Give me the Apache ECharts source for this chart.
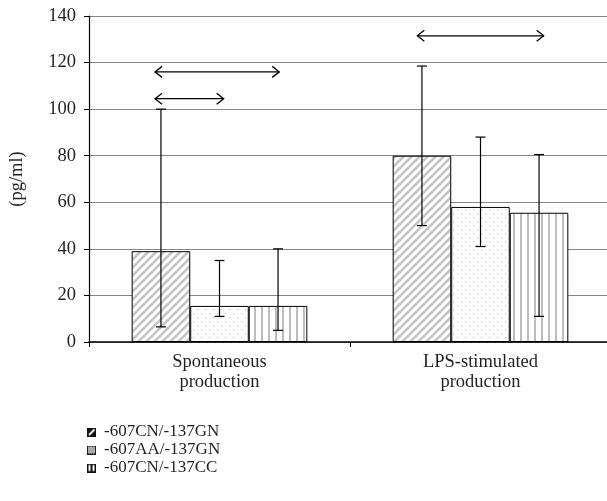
<!DOCTYPE html>
<html>
<head>
<meta charset="utf-8">
<script src="https://cdn.jsdelivr.net/npm/echarts@6/dist/echarts.min.js"></script>
<style>html,body{margin:0;padding:0;background:#fff;overflow:hidden;}#c{width:615px;height:501px;}</style>
</head>
<body>
<div id="c"></div>
<script>
// ---- data ----
const categories = ['Spontaneous\nproduction', 'LPS-stimulated\nproduction'];
const seriesNames = ['-607CN/-137GN', '-607AA/-137GN', '-607CN/-137CC'];
const meanCN_GN = [39, 80];
const meanAA_GN = [15.5, 58];
const meanCN_CC = [15.5, 55.5];
const errCN_GN = [[6.5, 100], [50, 118.5]];   // [low, high]
const errAA_GN = [[11, 35], [41, 88]];
const errCN_CC = [[5, 40], [11, 80.5]];
// significance arrows: [from, to, level] in category-index units
const arrows = [[-0.247, 0.229, 116], [-0.247, 0.016, 104.5], [0.758, 1.242, 131.5]];
const yTicks = {min: 0, max: 140, interval: 20};

// ---- patterns ----
function makeCanvas(w, h, draw) {
  const c = document.createElement('canvas');
  c.width = w; c.height = h;
  const ctx = c.getContext('2d');
  draw(ctx);
  return c;
}
const diag = makeCanvas(8, 8, ctx => {
  ctx.fillStyle = '#fff'; ctx.fillRect(0, 0, 8, 8);
  ctx.strokeStyle = '#c4c4c4'; ctx.lineWidth = 2.6;
  [[-8, 16, 16, -8], [-16, 16, 16, -16], [0, 16, 16, 0], [-8, 8, 8, -8], [0, 24, 24, 0]].forEach(l => {
    ctx.beginPath(); ctx.moveTo(l[0], l[1]); ctx.lineTo(l[2], l[3]); ctx.stroke();
  });
});
const dots = makeCanvas(8, 8, ctx => {
  ctx.fillStyle = '#fff'; ctx.fillRect(0, 0, 8, 8);
  ctx.fillStyle = '#c8c8c8';
  ctx.fillRect(1, 1, 1.3, 1.3);
  ctx.fillRect(5, 5, 1.3, 1.3);
});
const vert = makeCanvas(7, 4, ctx => {
  ctx.fillStyle = '#fff'; ctx.fillRect(0, 0, 7, 4);
  ctx.fillStyle = '#bdbdbd'; ctx.fillRect(2, 0, 2, 4);
});
const patterns = [diag, dots, vert];

function icon(draw) {
  return 'image://' + makeCanvas(9, 9, draw).toDataURL();
}
const icons = [
  icon(ctx => {
    ctx.fillStyle = '#111'; ctx.fillRect(0, 0, 9, 9);
    ctx.strokeStyle = '#fff'; ctx.lineWidth = 1.8;
    ctx.beginPath(); ctx.moveTo(2, 7.5); ctx.lineTo(7.5, 2); ctx.stroke();
  }),
  icon(ctx => {
    ctx.fillStyle = '#222'; ctx.fillRect(0, 0, 9, 9);
    for (let i = 1; i < 8; i++) for (let j = 1; j < 8; j++) {
      ctx.fillStyle = ((i + j) % 2) ? '#d8d8d8' : '#777';
      ctx.fillRect(i, j, 1, 1);
    }
  }),
  icon(ctx => {
    ctx.fillStyle = '#111'; ctx.fillRect(0, 0, 9, 9);
    ctx.fillStyle = '#fff'; ctx.fillRect(1.5, 1.5, 2, 6); ctx.fillRect(5.5, 1.5, 2, 6);
  })
];

const means = [meanCN_GN, meanAA_GN, meanCN_CC];
const errs = [errCN_GN, errAA_GN, errCN_CC];
const GAP = 0.327;
const FONT = 'Liberation Serif';
const TXT = '#231f20';

const barSeries = seriesNames.map((n, s) => ({
  name: n, type: 'bar', data: means[s], barGap: 0, barCategoryGap: (GAP * 100) + '%',
  itemStyle: {color: {image: patterns[s], repeat: 'repeat'}, borderColor: '#000', borderWidth: 1},
  z: 2
}));

const errData = [];
errs.forEach((e, s) => e.forEach((v, i) => errData.push([i, s, v[0], v[1]])));

const errSeries = {
  type: 'custom', name: 'err', z: 5, silent: true,
  encode: {x: 0, y: [2, 3]},
  data: errData,
  renderItem: (params, api) => {
    const i = api.value(0), s = api.value(1);
    const catW = api.size([1, 0])[0];
    const barW = catW * (1 - GAP) / 3;
    const lo = api.coord([i, api.value(2)]);
    const hi = api.coord([i, api.value(3)]);
    const x = lo[0] + (s - 1) * barW;
    const cap = 5;
    const st = {stroke: '#000', lineWidth: 1.2};
    return {type: 'group', children: [
      {type: 'line', shape: {x1: x, y1: lo[1], x2: x, y2: hi[1]}, style: st},
      {type: 'line', shape: {x1: x - cap, y1: lo[1], x2: x + cap, y2: lo[1]}, style: st},
      {type: 'line', shape: {x1: x - cap, y1: hi[1], x2: x + cap, y2: hi[1]}, style: st}
    ]};
  }
};

const arrowSeries = {
  type: 'custom', name: 'arrows', xAxisIndex: 1, z: 5, silent: true,
  encode: {x: [0, 1], y: 2},
  data: arrows,
  renderItem: (params, api) => {
    const a = api.coord([api.value(0), api.value(2)]);
    const b = api.coord([api.value(1), api.value(2)]);
    const hl = 7, hh = 5.5;
    const st = {stroke: '#000', lineWidth: 1.3, fill: null};
    return {type: 'group', children: [
      {type: 'line', shape: {x1: a[0], y1: a[1], x2: b[0], y2: b[1]}, style: st},
      {type: 'polyline', shape: {points: [[a[0] + hl, a[1] - hh], [a[0], a[1]], [a[0] + hl, a[1] + hh]]}, style: st},
      {type: 'polyline', shape: {points: [[b[0] - hl, b[1] - hh], [b[0], b[1]], [b[0] - hl, b[1] + hh]]}, style: st}
    ]};
  }
};

const chart = echarts.init(document.getElementById('c'), null, {renderer: 'canvas'});
chart.setOption({
  animation: false,
  backgroundColor: '#fff',
  textStyle: {fontFamily: FONT, color: TXT},
  grid: {left: 87, right: 4, top: 16, bottom: 159, containLabel: false},
  legend: {
    orient: 'vertical', left: 82, top: 418, itemWidth: 9, itemHeight: 9, itemGap: 0,
    textStyle: {fontFamily: FONT, fontSize: 17, color: TXT, lineHeight: 18, padding: [0, 0, 0, 3]},
    data: seriesNames.map((n, s) => ({name: n, icon: icons[s]}))
  },
  xAxis: [{
    type: 'category', data: categories,
    axisLine: {lineStyle: {color: '#000', width: 1.5}},
    axisTick: {show: true, length: 5, lineStyle: {color: '#000'}},
    axisLabel: {fontFamily: FONT, fontSize: 18.5, color: TXT, lineHeight: 20, margin: 10}
  }, {
    type: 'value', min: -0.5, max: 1.5, show: false
  }],
  yAxis: {
    type: 'value', min: yTicks.min, max: yTicks.max, interval: yTicks.interval,
    name: '(pg/ml)', nameLocation: 'middle', nameGap: 62,
    nameTextStyle: {fontFamily: FONT, fontSize: 18.5, color: TXT},
    axisLine: {show: true, onZero: false, lineStyle: {color: '#000', width: 1.2}},
    axisTick: {show: true, length: 5, lineStyle: {color: '#000'}},
    axisLabel: {fontFamily: FONT, fontSize: 18.5, color: TXT, margin: 13},
    splitLine: {show: true, lineStyle: {color: '#858585', width: 1}}
  },
  series: [...barSeries, errSeries, arrowSeries]
});
</script>
</body>
</html>
